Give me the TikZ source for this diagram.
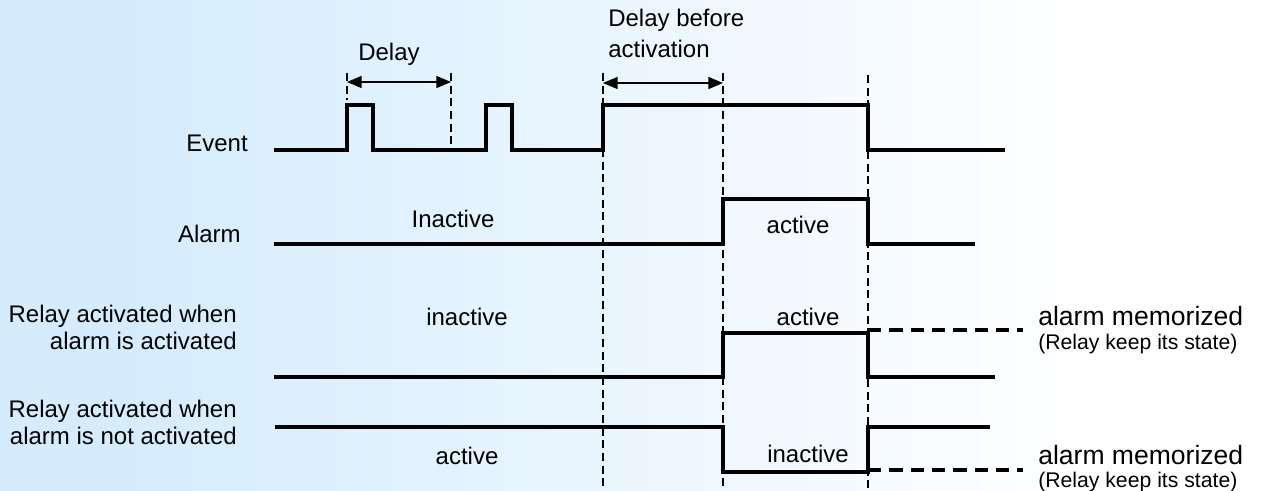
\documentclass[tikz,border=0pt]{standalone}
\usepackage{fontspec}
\setmainfont{Liberation Sans}
\usetikzlibrary{positioning,arrows.meta}
\definecolor{bgblue}{RGB}{212,236,253}
\tikzset{
	wave/.style = {line width=3.4pt, line join=miter},
	guide/.style = {line width=1.4pt, dash pattern=on 6pt off 3.5pt},
	hold/.style = {line width=2.4pt, dash pattern=on 10pt off 6pt},
	span/.style = {line width=1.1pt, {Triangle[length=11pt,width=9pt]}-{Triangle[length=11pt,width=9pt]}},
	lbl/.style = {inner sep=0pt, font=\fontsize{18}{20.25}\selectfont},
	memo/.style = {inner sep=0pt, font=\fontsize{19.9}{24}\selectfont},
	note/.style = {inner sep=0pt, font=\fontsize{15.9}{19}\selectfont}}

\begin{document}
\begin{tikzpicture}[x=0.75pt, y=-0.75pt]
\useasboundingbox (0,0) rectangle (1261,490);

% BACKGROUND
\fill [bgblue] (-5,-5) rectangle (110,495);
\shade [left color=bgblue, right color=white] (110,-5) rectangle (1090,495);
\fill [white] (1090,-5) rectangle (1266,495);

% NODES
% row labels
\node (event) [lbl, anchor=base east] at (248,151) {Event};
\node (alarm) [lbl, anchor=base east] at (241,242) {Alarm};
\node (relayon) [lbl, align=right, anchor=north east] at (237,305) {Relay activated when\\alarm is activated};
\node (relayoff) [lbl, align=right, anchor=north east] at (237,400) {Relay activated when\\alarm is not activated};
% delays
\node (delay) [lbl, anchor=base] at (389,60) {Delay};
\node (delayact) [lbl, align=left, anchor=north west, font=\fontsize{18}{23.25}\selectfont] at (608,9) {Delay before\\activation};
% states
\node (alinact) [lbl, anchor=base] at (453,227) {Inactive};
\node (alact) [lbl, anchor=base] at (798,233) {active};
\node (oninact) [lbl, anchor=base] at (467,325) {inactive};
\node (onact) [lbl, anchor=base] at (808,325) {active};
\node (offact) [lbl, anchor=base] at (467,464) {active};
\node (offinact) [lbl, anchor=base] at (808,462) {inactive};
% memorized
\node (memon) [memo, anchor=base west] at (1038,325) {alarm memorized};
\node (keepon) [note, anchor=base west] at (1038,349) {(Relay keep its state)};
\node (memoff) [memo, anchor=base west] at (1038,464) {alarm memorized};
\node (keepoff) [note, anchor=base west] at (1038,487) {(Relay keep its state)};

% time marks
\coordinate (d1a) at (347,82);
\coordinate (d1b) at (451,82);
\coordinate (d2a) at (603,83);
\coordinate (d2b) at (723,83);
\coordinate (holdon) at (868,330);
\coordinate (holdoff) at (868,470);

%CONNECTIONS
% guides
\draw [guide] (347,73) -- (347,100);
\draw [guide] (451,73) -- (451,150);
\draw [guide] (603,73) -- (603,490);
\draw [guide] (723,73) -- (723,490);
\draw [guide] (868,75) -- (868,490);
\draw [span] (d1a) -- (d1b);
\draw [span] (d2a) -- (d2b);
% signals
\draw [wave] (274,150) -- (347,150) -- (347,105) -- (373,105) -- (373,150) -- (486,150) -- (486,105) -- (512,105) -- (512,150) -- (603,150) -- (603,105) -- (868,105) -- (868,150) -- (1005,150);
\draw [wave] (274,244) -- (723,244) -- (723,199) -- (868,199) -- (868,244) -- (975,244);
\draw [wave] (274,377) -- (723,377) -- (723,333) -- (868,333) -- (868,377) -- (995,377);
\draw [wave] (275,427) -- (723,427) -- (723,472) -- (868,472) -- (868,427) -- (990,427);
\draw [hold] (holdon) -- (1023,330);
\draw [hold] (holdoff) -- (1023,470);

\end{tikzpicture}
\end{document}
